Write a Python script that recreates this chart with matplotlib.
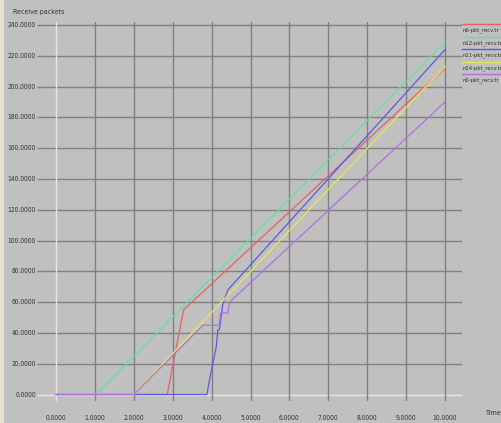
#!/usr/bin/env python3
# -*- coding: utf-8 -*

import matplotlib
matplotlib.use('Agg')
import matplotlib.pyplot as plt
from matplotlib.patches import Rectangle
from matplotlib.lines import Line2D

# received packet counts over time, one trace per node
names = ['n6-pkt_recv.tr', 'n12-pkt_recv.tr', 'n11-pkt_recv.tr',
         'n14-pkt_recv.tr', 'n0-pkt_recv.tr']
colors = ['#e06464', '#64e0a0', '#5a5ae6', '#e6e65a', '#b070e0']

n6_t = [0.0, 2.86, 3.28, 7.0, 10.0]
n6_v = [0, 0, 55, 142, 212]
n12_t = [0.0, 1.03, 10.0]
n12_v = [0, 0, 229]
n11_t = [0.0, 3.88, 3.95, 4.12, 4.16, 4.20, 4.29, 4.42, 10.0]
n11_v = [0, 0, 10, 31, 42, 42, 59, 68, 224]
n14_t = [0.0, 2.0, 10.0]
n14_v = [0, 0, 213]
n0_t = [0.0, 2.0, 3.78, 4.20, 4.23, 4.42, 4.46, 10.0]
n0_v = [0, 0, 45, 45, 53, 53, 60, 190]

times = [n6_t, n12_t, n11_t, n14_t, n0_t]
values = [n6_v, n12_v, n11_v, n14_v, n0_v]

xticks = [0, 1, 2, 3, 4, 5, 6, 7, 8, 9, 10]
yticks = [0, 20, 40, 60, 80, 100, 120, 140, 160, 180, 200, 220, 240]

W, H = 502, 423
bg = '#c0c0c0'
gridc = '#808080'
zeroc = '#e6e6e6'
txtc = '#303030'
font = dict(family=['DejaVu Sans Condensed', 'Liberation Sans Narrow', 'DejaVu Sans'],
            fontstretch='condensed', color=txtc)

fig = plt.figure(figsize=(W / 100, H / 100), dpi=100, facecolor=bg)
fig.patches.append(Rectangle((0, 0), 4 / W, 1, transform=fig.transFigure,
                             facecolor='#e4e0cc', edgecolor='none'))

# pixel geometry of the data area
px0, px10 = 56.0, 445.0
py0, py240 = 394.5, 25.0
sx = (px10 - px0) / 10.0
sy = (py0 - py240) / 240.0
left, right, top, bottom = 37.0, 462.0, 22.0, 401.0

ax = fig.add_axes([left / W, 1 - bottom / H, (right - left) / W, (bottom - top) / H])
ax.set_facecolor(bg)
ax.set_xlim((left - px0) / sx, (right - px0) / sx)
ax.set_ylim((py0 - bottom) / sy, (py0 - top) / sy)
for s in ax.spines.values():
    s.set_visible(False)
ax.set_xticks([])
ax.set_yticks([])

xl = ax.get_xlim()
for y in yticks:
    ax.hlines(y, xl[0], xl[1], color=zeroc if y == 0 else gridc, lw=1, zorder=1)
for x in xticks:
    ax.axvline(x, color=zeroc if x == 0 else gridc, lw=1, zorder=1)

for t, v, c in zip(times, values, colors):
    ax.plot(t, v, color=c, lw=0.9, zorder=3)

# tick labels
for y in yticks:
    fig.text(36 / W, 1 - (py0 - y * sy) / H, '%.4f' % y, ha='right', va='center',
             fontsize=4.8, **font)
for x in xticks:
    fig.text((px0 + x * sx) / W, 1 - 418 / H, '%.4f' % x, ha='center', va='center',
             fontsize=4.8, **font)

fig.text(13 / W, 1 - 12 / H, 'Receive packets', ha='left', va='center',
         fontsize=5, **font)
fig.text(501 / W, 1 - 413 / H, 'Time', ha='right', va='center',
         fontsize=5.2, **font)

# legend: colored line above each file name
for i, (n, c) in enumerate(zip(names, colors)):
    ly = 24.3 + 12.5 * i
    fig.lines.append(Line2D([462 / W, 1.0], [1 - ly / H, 1 - ly / H],
                            transform=fig.transFigure, color=c, lw=1))
    fig.text(463 / W, 1 - (ly + 6) / H, n, ha='left', va='center',
             fontsize=4.2, **font)

fig.savefig('out.png', dpi=100, facecolor=bg)
